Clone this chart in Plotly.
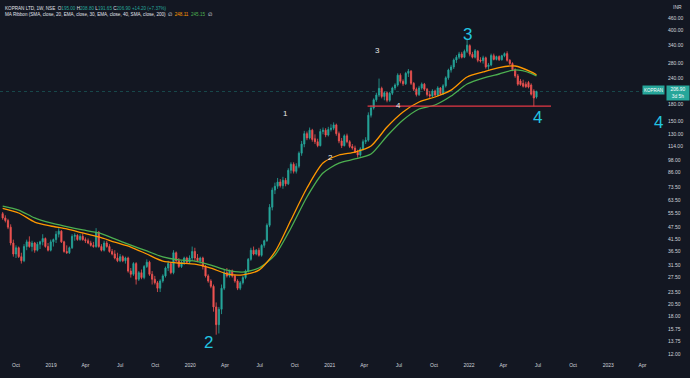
import numpy as np
import pandas as pd
import plotly.graph_objects as go

# ---------------- data (weekly candles, KOPRAN LTD, NSE) ----------------
first_week = "2018-08-27"

opens = [55, 52.5, 51, 47.5, 40, 35.5, 38, 34.5, 33, 38.5,
         40.5, 38.5, 40, 37, 39.5, 40.5, 42, 38.5, 37, 40.5,
         41.5, 44, 45.5, 40.5, 36.5, 36, 38, 43, 43.5, 41.5,
         43, 41.5, 41, 40, 39, 38.5, 45, 38.5, 37, 40,
         38.5, 36.5, 35.5, 34, 33, 34.5, 33, 34, 29.5, 28.5,
         32, 27, 29, 27.5, 31, 32.5, 28.5, 27, 26, 24.5,
         26.5, 28, 30.5, 32, 29, 36, 33, 31, 32.5, 34,
         32.5, 34, 36.5, 34, 33, 34, 31, 28, 26.5, 25,
         20, 16.5, 19.5, 24.5, 29, 28, 29.5, 28, 26.5, 24.5,
         26, 27.5, 29.5, 33.5, 37, 35.5, 37, 35, 39, 41,
         48.5, 59, 71, 74, 77.5, 74.5, 79, 76, 88, 94,
         87, 92, 106, 117, 131, 125, 136, 124, 120, 115,
         134, 136, 129, 137, 139, 144, 131, 121, 115, 128,
         120, 114, 112, 107, 104, 111, 120, 122, 160, 173,
         189, 199, 214, 196, 204, 188, 203, 215, 222, 247,
         231, 225, 252, 258, 226, 212, 200, 215, 224, 212,
         200, 197, 208, 199, 215, 202, 220, 240, 261, 270,
         291, 300, 311, 300, 320, 340, 310, 300, 320, 291,
         289, 298, 271, 276, 305, 293, 302, 292, 305, 312,
         290, 280, 262, 245, 232, 226, 224, 228, 222, 208,
         195]
highs = [56, 54, 52, 49, 41.5, 39, 38.5, 36, 39.5, 41.5,
         43, 41, 40.5, 40.5, 41, 44, 42.5, 40, 41.5, 42,
         45.5, 47, 46, 41, 39, 38.5, 44, 44.5, 44, 44,
         44.5, 42.5, 42, 41, 40.5, 47, 45.5, 39.5, 41, 41,
         39.5, 37.5, 37, 36, 35.5, 35, 34.5, 34.5, 30.5, 32.5,
         32.5, 29.5, 30, 31.5, 33.5, 33, 29.5, 28, 26.5, 27,
         28.5, 31, 33, 32.5, 37, 36.5, 34, 33, 34.5, 34.5,
         35, 38.5, 38, 35.5, 34.5, 34.5, 31.5, 28.5, 27, 25.5,
         21, 20, 25.5, 30, 30.5, 30, 30, 28.5, 27, 26.5,
         28, 30, 34, 38, 38.5, 37.5, 38, 39.5, 41.5, 49.5,
         61, 73, 77, 81, 80, 82, 81, 90, 96, 96,
         95, 108, 121, 135, 134, 140, 138, 130, 124, 138,
         140, 139, 141, 145, 148, 146, 134, 125, 130, 131,
         122, 117, 115, 110, 113, 123, 126, 165, 178, 192,
         204, 238, 218, 207, 207, 206, 218, 226, 252, 252,
         236, 256, 264, 261, 229, 216, 220, 228, 227, 215,
         208, 212, 211, 219, 217, 224, 244, 265, 276, 296,
         307, 318, 318, 326, 366, 345, 318, 328, 324, 300,
         305, 302, 282, 312, 312, 305, 306, 308, 316, 320,
         294, 284, 266, 250, 237, 235, 230, 232, 226, 212,
         208.8]
lows = [51.5, 50, 46.5, 39, 34.5, 34, 34, 32, 32.5, 37,
        38, 36.5, 36, 36.5, 37.5, 39, 38, 36.5, 36.5, 38.5,
        40, 42.5, 40, 36, 35.5, 35.5, 37.5, 41, 41, 41,
        41, 40, 39.5, 38.5, 38, 38, 38, 36.5, 36.5, 38,
        36, 35, 33.5, 32.5, 32.5, 32.5, 32, 29, 27.5, 28,
        25.5, 26.5, 27, 27, 30.5, 28, 25.5, 25.5, 23.5, 23.5,
        26, 27.5, 29.5, 28.5, 28.5, 32.5, 30.5, 30.5, 31.5, 32,
        32, 33, 33, 32.5, 32, 30, 27.5, 26, 24.5, 19,
        14.8, 15, 18.5, 24, 27.5, 27.5, 27.5, 26, 24, 24,
        25.5, 27, 29, 33, 35, 35, 34.5, 34.5, 38, 40.5,
        47.5, 57, 68, 72, 73, 72, 74, 75, 85, 85,
        85, 90, 103, 113, 122, 123, 120, 117, 113, 114,
        130, 126, 127, 134, 136, 128, 118, 112, 114, 118,
        112, 110, 106, 101, 102, 109, 117, 120, 156, 170,
        185, 195, 192, 188, 184, 185, 199, 210, 218, 226,
        220, 222, 242, 222, 208, 196, 197, 211, 208, 196,
        193, 194, 196, 197, 199, 199, 216, 235, 254, 264,
        282, 294, 296, 297, 314, 303, 296, 296, 284, 283,
        280, 265, 262, 272, 290, 290, 288, 289, 300, 286,
        276, 258, 240, 220, 220, 216, 215, 214, 198, 176,
        191.65]
closes = [52.5, 51, 47.5, 40, 35.5, 38, 34.5, 33, 38.5, 40.5,
          38.5, 40, 37, 39.5, 40.5, 42, 38.5, 37, 40.5, 41.5,
          44, 45.5, 40.5, 36.5, 36, 38, 43, 43.5, 41.5, 43,
          41.5, 41, 40, 39, 38.5, 45, 38.5, 37, 40, 38.5,
          36.5, 35.5, 34, 33, 34.5, 33, 34, 29.5, 28.5, 32,
          27, 29, 27.5, 31, 32.5, 28.5, 27, 26, 24.5, 26.5,
          28, 30.5, 32, 29, 36, 33, 31, 32.5, 34, 32.5,
          34, 36.5, 34, 33, 34, 31, 28, 26.5, 25, 20,
          16.5, 19.5, 24.5, 29, 28, 29.5, 28, 26.5, 24.5, 26,
          27.5, 29.5, 33.5, 37, 35.5, 37, 35, 39, 41, 48.5,
          59, 71, 74, 77.5, 74.5, 79, 76, 88, 94, 87,
          92, 106, 117, 131, 125, 136, 123, 120, 115, 134,
          136, 129, 137, 139, 144, 131, 121, 115, 128, 120,
          114, 112, 107, 104, 111, 120, 122, 160, 173, 189,
          199, 214, 196, 204, 188, 203, 215, 222, 247, 231,
          225, 252, 258, 226, 212, 200, 215, 224, 212, 200,
          197, 208, 199, 215, 202, 220, 240, 261, 270, 291,
          300, 311, 300, 320, 342, 310, 300, 322, 290, 288,
          298, 270, 276, 306, 293, 302, 292, 305, 312, 290,
          280, 262, 245, 224, 223, 219, 218, 217, 201, 192.7,
          206.9]

# MA ribbon values read at every 6th week (week index from first_week)
ma_weeks = [0, 6, 12, 18, 24, 30, 36, 42, 48, 54, 60, 66, 72, 78, 84, 90, 96,
            102, 108, 114, 120, 126, 132, 138, 144, 150, 156, 162, 168, 174,
            180, 186, 192, 198, 200]
ma_fast = [58.2, 55.4, 50.2, 48.1, 46.6, 44.6, 42.7, 40.4, 38.3, 35.5, 32.9,
           32.2, 31.8, 30.5, 28.6, 28.3, 29.8, 36.3, 51.3, 72.6, 95.2, 103.9,
           107.3, 114.6, 140.7, 165.6, 184.6, 194.9, 210.1, 242.0, 255.6,
           268.3, 272.8, 256.0, 248.11]
ma_slow = [59.7, 57.2, 52.5, 49.7, 47.8, 46.1, 44.6, 41.8, 39.1, 36.7, 34.4,
           33.3, 32.9, 31.5, 29.8, 29.2, 30.5, 35.1, 47.1, 65.9, 85.4, 95.2,
           99.5, 105.0, 127.6, 151.8, 171.1, 178.7, 196.9, 224.4, 239.4,
           250.1, 261.3, 252.0, 245.15]

support_level = 176.5
support_from, support_to = "2021-04-10", "2022-08-04"

x_ticks = ["2018-10-01", "2019-01-01", "2019-04-01", "2019-07-01", "2019-10-01",
           "2020-01-01", "2020-04-01", "2020-07-01", "2020-10-01", "2021-01-01",
           "2021-04-01", "2021-07-01", "2021-10-01", "2022-01-01", "2022-04-01",
           "2022-07-01", "2022-10-01", "2023-01-01", "2023-04-01"]
x_labels = ["Oct", "2019", "Apr", "Jul", "Oct", "2020", "Apr", "Jul", "Oct", "2021",
            "Apr", "Jul", "Oct", "2022", "Apr", "Jul", "Oct", "2023", "Apr"]
y_ticks = [460, 400, 340, 280, 240, 180, 150, 130, 114, 98, 86, 73.5, 63.5,
           55.5, 47.5, 41.5, 36.5, 31.5, 27.5, 23.5, 20.5, 18, 15.75, 13.75, 12]

# ---------------- styling ----------------
BG = "#131722"
TXT = "#d1d4dc"
UP = "#26a69a"
DOWN = "#ef5350"
ORANGE = "#ff9800"
GREEN = "#4caf50"
CYAN = "#22c4e0"
FONT = "Liberation Sans"

dates = pd.date_range(first_week, periods=len(closes), freq="7D")
ma_dates = dates[ma_weeks]
x_start, x_end = "2018-08-20", "2023-05-30"
PW, PH = 665, 357  # plot area in px

fig = go.Figure()
fig.add_trace(go.Candlestick(
    x=dates, open=opens, high=highs, low=lows, close=closes,
    increasing=dict(line=dict(color=UP, width=0.8), fillcolor=UP),
    decreasing=dict(line=dict(color=DOWN, width=0.8), fillcolor=DOWN),
    whiskerwidth=0, hoverinfo="skip"))
fig.add_trace(go.Scatter(x=ma_dates, y=ma_slow, mode="lines",
                         line=dict(color=GREEN, width=1.3, shape="spline", smoothing=0.7),
                         hoverinfo="skip"))
fig.add_trace(go.Scatter(x=ma_dates, y=ma_fast, mode="lines",
                         line=dict(color=ORANGE, width=1.3, shape="spline", smoothing=0.7),
                         hoverinfo="skip"))
# last price line
fig.add_trace(go.Scatter(x=[x_start, x_end], y=[closes[-1], closes[-1]], mode="lines",
                         line=dict(color="rgba(38,166,154,0.35)", width=1, dash="dot"),
                         hoverinfo="skip"))
# support line
fig.add_trace(go.Scatter(x=[support_from, support_to], y=[support_level, support_level],
                         mode="lines", line=dict(color="#e53945", width=1.1),
                         hoverinfo="skip"))


def px_x(px):
    return px / PW


def px_y(py):
    return 1 - py / PH


ann = []
# legend text (top-left)
chg = closes[-1] - closes[-2]
pct = chg / closes[-2] * 100
g = lambda s: f'<span style="color:{UP}">{s}</span>'
line1 = (f'KOPRAN LTD, 1W, NSE  O{g(f"{opens[-1]:.2f}")} H{g(f"{highs[-1]:.2f}")} '
         f'L{g(f"{lows[-1]:.2f}")} C{g(f"{closes[-1]:.2f}")} {g(f"+{chg:.2f} (+{pct:.2f}%)")}')
line2 = ('MA Ribbon (SMA, close, 20, EMA, close, 30, EMA, close, 40, SMA, close, 200)  ∅  '
         f'<span style="color:{ORANGE}">{ma_fast[-1]:.2f}</span>  '
         f'<span style="color:{GREEN}">{ma_slow[-1]:.2f}</span>  ∅')
ann.append(dict(x=px_x(3), y=px_y(4), xref="paper", yref="paper", xanchor="left",
                yanchor="top", align="left", showarrow=False,
                text=line1 + "<br>" + line2, font=dict(size=4.6, color="#e0e3eb", family=FONT)))
# wave labels (small white)
for t, (x, y) in zip(["1", "2", "3", "4"], [(285, 113), (330, 157), (377, 51), (398, 105)]):
    ann.append(dict(x=px_x(x), y=px_y(y), xref="paper", yref="paper", showarrow=False,
                    xanchor="center", yanchor="middle",
                    text=t, font=dict(size=8, color="#e8e8e8", family=FONT)))
# wave labels (large cyan)
for t, (x, y) in zip(["3", "2", "4", "4"], [(467, 35), (208, 342), (537, 118), (658, 122)]):
    ann.append(dict(x=px_x(x), y=px_y(y), xref="paper", yref="paper", showarrow=False,
                    xanchor="center", yanchor="middle",
                    text=t, font=dict(size=17, color=CYAN, family=FONT)))
# currency label
ann.append(dict(x=px_x(677), y=px_y(7), xref="paper", yref="paper", showarrow=False,
                xanchor="center", yanchor="middle",
                text="INR", font=dict(size=5, color=TXT, family=FONT)))
# last price labels
ann.append(dict(x=px_x(665), y=px_y(90), xref="paper", yref="paper", showarrow=False,
                xanchor="right", yanchor="middle", text="KOPRAN", bgcolor=UP,
                width=20, height=7, borderpad=0.5,
                font=dict(size=4.5, color="white", family=FONT)))
ann.append(dict(x=px_x(666), y=px_y(85), xref="paper", yref="paper", showarrow=False,
                xanchor="left", yanchor="top", text=f"{closes[-1]:.2f}<br>3d 5h",
                bgcolor=UP, width=21, height=13, borderpad=0.5, align="center",
                font=dict(size=4.8, color="white", family=FONT)))

fig.update_layout(
    width=690, height=378,
    margin=dict(l=0, r=690 - PW, t=0, b=378 - PH, autoexpand=False),
    paper_bgcolor=BG, plot_bgcolor=BG,
    showlegend=False, hovermode=False, boxgap=0.35,
    annotations=ann,
    xaxis=dict(type="date", range=[x_start, x_end], rangeslider=dict(visible=False),
               automargin=False,
               showgrid=False, zeroline=False, showline=False, ticks="",
               tickvals=x_ticks, ticktext=x_labels, ticklabelstandoff=4,
               tickfont=dict(size=5, color=TXT, family=FONT)),
    yaxis=dict(type="log", side="right", range=[np.log10(11.62), np.log10(558)],
               automargin=False,
               showgrid=False, zeroline=False, showline=False, ticks="",
               tickvals=y_ticks, ticktext=[f"{v:.2f}" for v in y_ticks],
               ticklabelstandoff=2,
               tickfont=dict(size=5, color=TXT, family=FONT)),
)

fig.write_html("out.html", config={"displayModeBar": False},
               post_script="document.body.style.margin='0';")
